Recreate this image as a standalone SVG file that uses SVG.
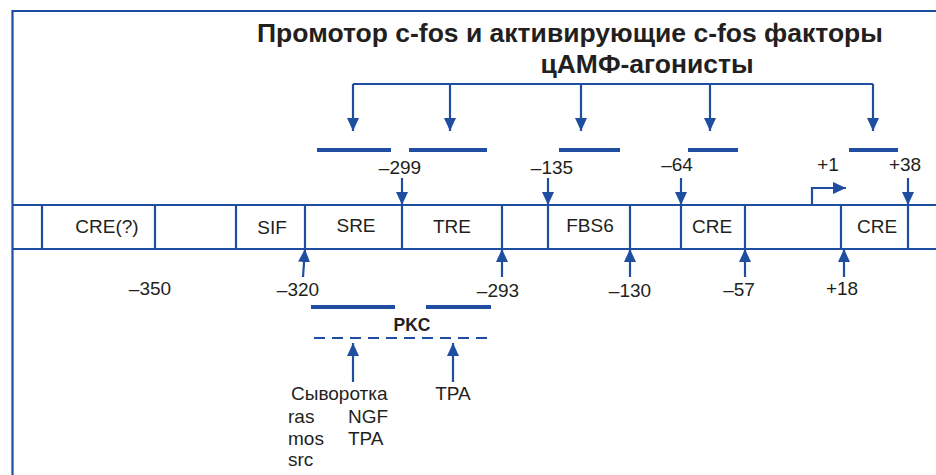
<svg xmlns="http://www.w3.org/2000/svg" width="936" height="475" viewBox="0 0 936 475">
<defs>
<style>
.ln{stroke:#1f4ea1;stroke-width:2.2;fill:none}
.bar{stroke:#1f4ea1;stroke-width:4;fill:none}
.t{font-family:"Liberation Sans",Arial,sans-serif;font-size:19px;fill:#231f20}
.c{text-anchor:middle}
.b{font-weight:bold}
</style>
<marker id="ah" markerUnits="userSpaceOnUse" markerWidth="14" markerHeight="12" refX="13" refY="6" orient="auto">
<path d="M0,0 L13,6 L0,12 Z" fill="#1f4ea1"/>
</marker>
</defs>
<rect width="936" height="475" fill="#fff"/>
<g id="frame">
<path class="ln" d="M12.5,480 V11 H940"/>
</g>
<g id="title">
<text class="t b c" x="570" y="42" style="font-size:26.5px">Промотор c-fos и активирующие c-fos факторы</text>
<text class="t b c" x="647" y="73" style="font-size:26.5px">цАМФ-агонисты</text>
</g>
<g id="connectors">
<path class="ln" d="M353,84 H873"/>
<path class="ln" d="M353,84 V131" marker-end="url(#ah)"/>
<path class="ln" d="M450,84 V131" marker-end="url(#ah)"/>
<path class="ln" d="M581,84 V131" marker-end="url(#ah)"/>
<path class="ln" d="M710,84 V131" marker-end="url(#ah)"/>
<path class="ln" d="M873,84 V131" marker-end="url(#ah)"/>
<path class="ln" d="M402,178 V205" marker-end="url(#ah)"/>
<path class="ln" d="M548,178 V205" marker-end="url(#ah)"/>
<path class="ln" d="M681,178 V205" marker-end="url(#ah)"/>
<path class="ln" d="M908,178 V205" marker-end="url(#ah)"/>
<path class="ln" d="M812,205 V188 H846" marker-end="url(#ah)"/>
<path class="ln" d="M303,277 L305,249" marker-end="url(#ah)"/>
<path class="ln" d="M502,277 V249" marker-end="url(#ah)"/>
<path class="ln" d="M630,277 V249" marker-end="url(#ah)"/>
<path class="ln" d="M745,277 V249" marker-end="url(#ah)"/>
<path class="ln" d="M844,277 V249" marker-end="url(#ah)"/>
<path class="ln" d="M353,382 V343" marker-end="url(#ah)"/>
<path class="ln" d="M453,382 V343" marker-end="url(#ah)"/>
</g>
<g id="sites">
<path class="bar" d="M317,150 H391 M409,150 H487 M559,150 H620 M688,150 H738 M849,150 H898"/>
</g>
<g id="band">
<path class="ln" d="M12,205 H936 M12,249 H936"/>
<path class="ln" d="M42,205 V249 M155,205 V249 M236,205 V249 M305,205 V249 M402,205 V249 M502,205 V249 M548,205 V249 M630,205 V249 M681,205 V249 M745,205 V249 M841,205 V249 M908,205 V249"/>
</g>
<g id="band-labels">
<text class="t c" x="107" y="233">CRE(?)</text>
<text class="t c" x="272" y="234">SIF</text>
<text class="t c" x="356" y="232">SRE</text>
<text class="t c" x="452" y="233">TRE</text>
<text class="t c" x="590" y="232">FBS6</text>
<text class="t c" x="712" y="233">CRE</text>
<text class="t c" x="877" y="233">CRE</text>
</g>
<g id="positions">
<text class="t c" x="400" y="174">–299</text>
<text class="t c" x="552" y="174">–135</text>
<text class="t c" x="677" y="171">–64</text>
<text class="t c" x="828" y="171">+1</text>
<text class="t c" x="905" y="171">+38</text>
<text class="t c" x="150" y="295">–350</text>
<text class="t c" x="298" y="296">–320</text>
<text class="t c" x="498" y="297">–293</text>
<text class="t c" x="630" y="297">–130</text>
<text class="t c" x="739" y="296">–57</text>
<text class="t c" x="842" y="295">+18</text>
</g>
<g id="pkc">
<path class="bar" d="M311,307 H395 M426,307 H491"/>
<text class="t b c" x="412" y="331" style="font-size:17.5px">PKC</text>
<path class="ln" d="M314,338 H493" stroke-dasharray="11,7"/>
</g>
<g id="activators">
<text class="t" x="291" y="400">Сыворотка</text>
<text class="t c" x="453" y="400">TPA</text>
<text class="t" x="288" y="423">ras</text>
<text class="t" x="288" y="445">mos</text>
<text class="t" x="288" y="466">src</text>
<text class="t" x="348" y="423">NGF</text>
<text class="t" x="348" y="445">TPA</text>
</g>
</svg>
